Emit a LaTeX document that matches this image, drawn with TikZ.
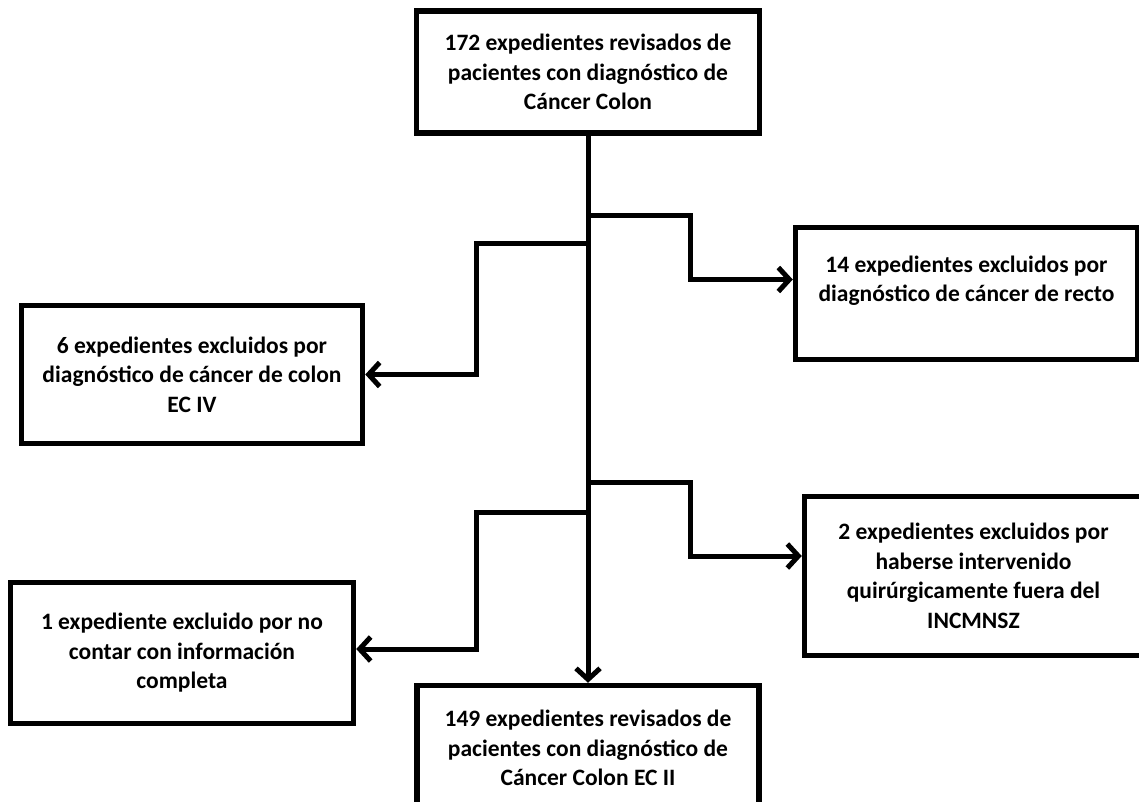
\documentclass[tikz,border=0pt]{standalone}
\usepackage{fontspec}
\setmainfont{Carlito}
\usepackage{tikz}
\usetikzlibrary{positioning, calc, arrows.meta}
\tikzstyle{caja} = [draw,rectangle,line width=5.5pt,align=center,inner sep=4pt,font=\bfseries\fontsize{23.5}{29.5}\selectfont]
\tikzstyle{flecha} = [line width=5pt,-{Straight Barb[length=11pt,width=24pt]}]

\begin{document}
\begin{tikzpicture}[x=1pt,y=-1pt,on grid]
    \path[use as bounding box] (0,0) rectangle (1139,801);
    \clip (0,0) rectangle (1139,801);
   	\node[caja,minimum width=343pt,minimum height=122pt](ini) at (588,72){172 expedientes revisados de\\ pacientes con diagnóstico de\\ Cáncer Colon};
   	\node[caja,minimum width=342pt,minimum height=132pt](der1)[below right=221.5pt and 378.5pt of ini]{14 expedientes excluidos por\\ diagnóstico de cáncer de recto\\ \mbox{}};
   	\node[caja,minimum width=341pt,minimum height=138pt](izq1)[below left=302.5pt and 396pt of ini]{6 expedientes excluidos por\\ diagnóstico de cáncer de colon\\ EC IV};
   	\node[caja,minimum width=338pt,minimum height=159pt](der2)[below right=504pt and 385.5pt of ini]{2 expedientes excluidos por\\ haberse intervenido\\ quirúrgicamente fuera del\\ INCMNSZ};
   	\node[caja,minimum width=343pt,minimum height=141pt](izq2)[below left=581pt and 406pt of ini]{1 expediente excluido por no\\ contar con información\\ completa};
   	\node[caja,minimum width=342pt,minimum height=125pt](fin)[below=676pt of ini]{149 expedientes revisados de\\ pacientes con diagnóstico de\\ Cáncer Colon EC II};
    % puntos de salida sobre la linea central
    \coordinate (b_r1) at (588,215);
    \coordinate (b_l1) at (588,243);
    \coordinate (b_r2) at (588,482);
    \coordinate (b_l2) at (588,512);
    \draw[flecha] (ini) -- (fin);
    \draw[flecha] (b_r1) -- ++(102,0) |- ([yshift=14pt]der1.west);
    \draw[flecha] (b_l1) -- ++(-112,0) |- (izq1.east);
    \draw[flecha] (b_r2) -- ++(102,0) |- ([yshift=20pt]der2.west);
    \draw[flecha] (b_l2) -- ++(-112,0) |- ([yshift=4pt]izq2.east);
\end{tikzpicture}
\end{document}
